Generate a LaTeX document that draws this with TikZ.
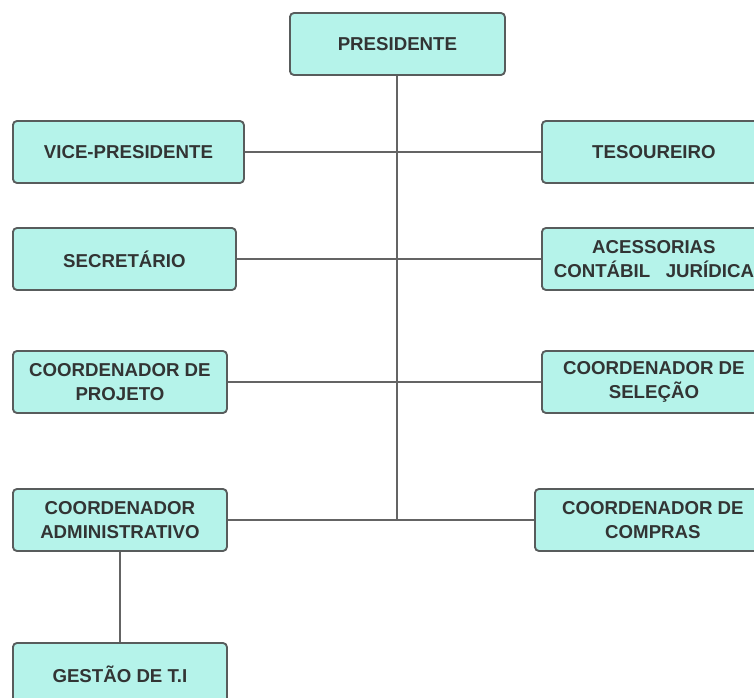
\documentclass[tikz,border=0pt]{standalone}
\usepackage{fontspec}
\setmainfont{Liberation Sans}
\usepackage{tikz}
\usetikzlibrary{positioning}
\definecolor{cargo}{RGB}{181,243,234}
\definecolor{borda}{RGB}{88,92,92}
\definecolor{linha}{RGB}{100,100,100}
\definecolor{texto}{RGB}{50,52,52}

\begin{document}
\begin{tikzpicture}[x=0.75pt, y=-0.75pt,
    cargobox/.style={draw=borda, fill=cargo, line width=1.4pt, rounded corners=3pt,
      minimum height=46.5pt, align=center, anchor=west, text=texto,
      font=\fontsize{14}{17.5}\selectfont\bfseries},
    liga/.style={draw=linha, line width=1.5pt}]
      \useasboundingbox (0,0) rectangle (754,698);
      \clip (0,0) rectangle (754,698);
      \node[cargobox, minimum width=161.25pt] (pres) at (289,44) {PRESIDENTE};
      \node[cargobox, minimum width=173.25pt] (vice) at (12,152) {VICE-PRESIDENTE};
      \node[cargobox, minimum width=167.25pt] (secr) at (12,259) {SECRETÁRIO};
      \node[cargobox, minimum width=160.5pt] (proj) at (12,382) {COORDENADOR DE\\PROJETO};
      \node[cargobox, minimum width=160.5pt] (adm) at (12,520) {COORDENADOR\\ADMINISTRATIVO};
      \node[cargobox, minimum width=160.5pt] (ti) at (12,674) {GESTÃO DE T.I};
      \node[cargobox, minimum width=168pt] (tes) at (541,152) {TESOUREIRO};
      \node[cargobox, minimum width=168pt] (acess) at (541,259) {ACESSORIAS\\CONTÁBIL\ \ \ JURÍDICA};
      \node[cargobox, minimum width=168pt] (sel) at (541,382) {COORDENADOR DE\\SELEÇÃO};
      \node[cargobox, minimum width=177pt] (comp) at (534,520) {COORDENADOR DE\\COMPRAS};
      \coordinate (base) at (pres.south |- adm.east);
      \draw[liga] (pres.south) -- (base);
      \draw[liga] (vice.east) -- (tes.west);
      \draw[liga] (secr.east) -- (acess.west);
      \draw[liga] (proj.east) -- (sel.west);
      \draw[liga] (adm.east) -- (comp.west);
      \draw[liga] (adm.south) -- (ti.north);
    \end{tikzpicture}
\end{document}
